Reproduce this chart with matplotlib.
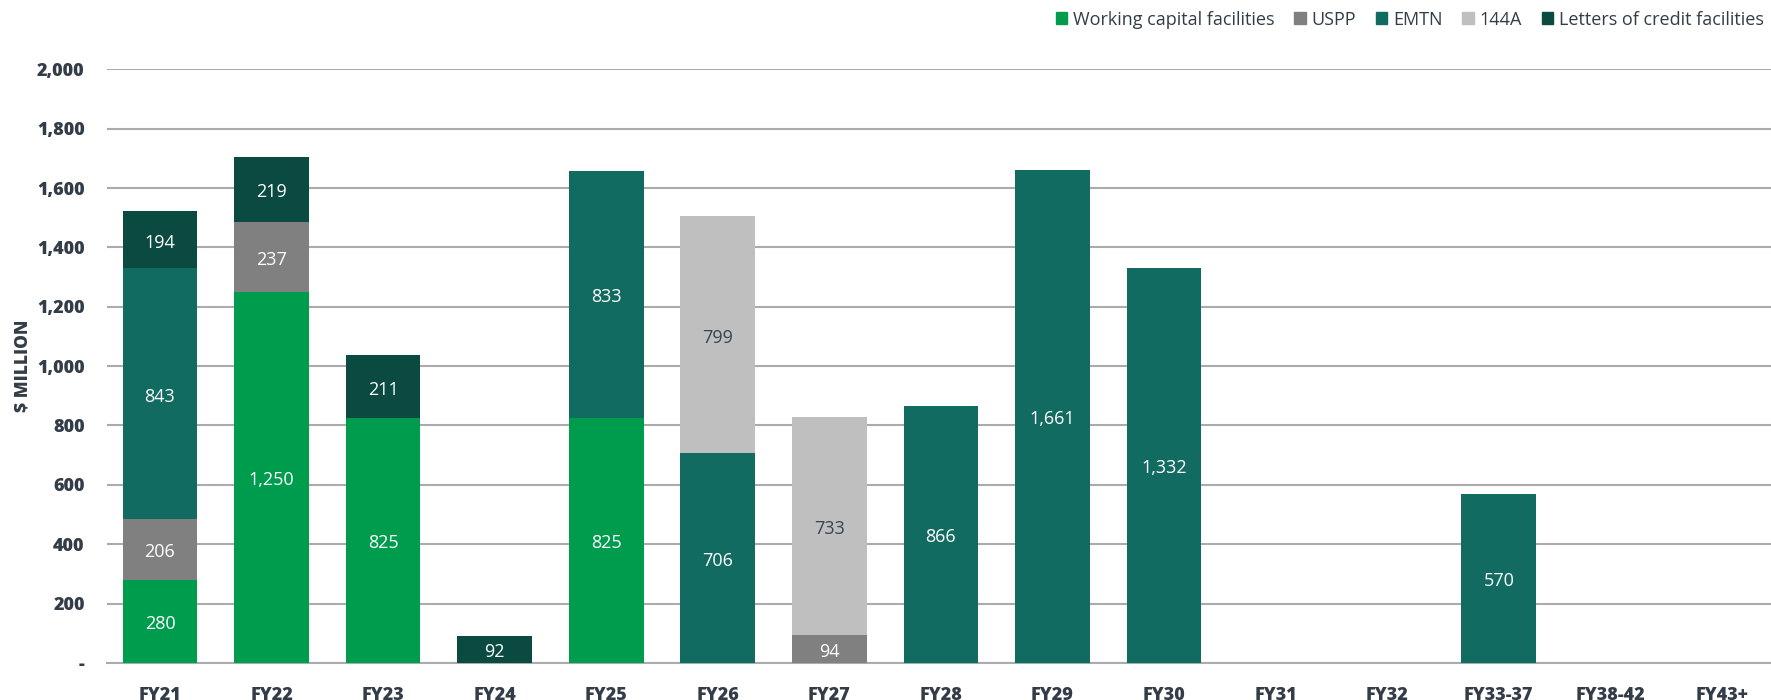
import numpy as np
import matplotlib.pyplot as plt
from matplotlib.patches import Patch
from matplotlib.transforms import offset_copy

plt.rcParams['font.family'] = ['Open Sans', 'DejaVu Sans']

# categories and series (in $ million)
years = ['FY21', 'FY22', 'FY23', 'FY24', 'FY25', 'FY26', 'FY27', 'FY28',
         'FY29', 'FY30', 'FY31', 'FY32', 'FY33-37', 'FY38-42', 'FY43+']
working_capital = [280, 1250, 825, 0, 825, 0, 0, 0, 0, 0, 0, 0, 0, 0, 0]
uspp = [206, 237, 0, 0, 0, 0, 94, 0, 0, 0, 0, 0, 0, 0, 0]
emtn = [843, 0, 0, 0, 833, 706, 0, 866, 1661, 1332, 0, 0, 570, 0, 0]
a144 = [0, 0, 0, 0, 0, 799, 733, 0, 0, 0, 0, 0, 0, 0, 0]
letters_credit = [194, 219, 211, 92, 0, 0, 0, 0, 0, 0, 0, 0, 0, 0, 0]

series = [
    ('Working capital facilities', working_capital, '#009C4E', 'white'),
    ('USPP', uspp, '#808080', 'white'),
    ('EMTN', emtn, '#116B61', 'white'),
    ('144A', a144, '#BFBFBF', '#3A4450'),
    ('Letters of credit facilities', letters_credit, '#0B4A41', 'white'),
]

text_col = '#333D47'

fig = plt.figure(figsize=(17.71, 7.0), dpi=100)
ax = fig.add_axes([0.0604, 0.053, 0.9396, 0.848])

# nudge labels down a touch
lab_tr = offset_copy(ax.transData, fig=fig, x=0, y=-3, units='dots')

x = np.arange(len(years))
bottom = np.zeros(len(years))
for name, vals, col, lcol in series:
    vals = np.array(vals, dtype=float)
    ax.bar(x, vals, 0.67, bottom=bottom, color=col, zorder=3, label=name)
    for xi, v, b in zip(x, vals, bottom):
        if v > 0:
            ax.text(xi, b + v / 2, f'{int(v):,}', ha='center', va='center',
                    color=lcol, fontsize=13, zorder=4, transform=lab_tr)
    bottom += vals

ax.set_xlim(-0.475, len(years) - 0.56)
ax.set_ylim(0, 2000)
ax.set_yticks(range(0, 2001, 200))
ax.set_yticklabels(['-'] + [f'{v:,}' for v in range(200, 2001, 200)])
ax.yaxis.grid(True, color='#ABABAB', linewidth=1.5, zorder=0)
ax.set_axisbelow(True)
for s in ['top', 'right', 'left']:
    ax.spines[s].set_visible(False)
ax.spines['bottom'].set_color('#ABABAB')
ax.spines['bottom'].set_linewidth(1.5)
ax.tick_params(axis='both', length=0, labelsize=13, colors=text_col)
ax.tick_params(axis='x', pad=17)
ax.tick_params(axis='y', pad=16)
ax.set_xticks(x)
ax.set_xticklabels(years)
for lab in ax.get_xticklabels() + ax.get_yticklabels():
    lab.set_fontweight('heavy')
ax.set_ylabel('$ MILLION', fontsize=12.5, fontweight='heavy', color=text_col, labelpad=4)

handles = [Patch(color=c) for _, _, c, _ in series]
fig.legend(handles, [n for n, _, _, _ in series], loc='upper right',
           bbox_to_anchor=(1.005, 1.008), ncol=5, frameon=False, fontsize=13,
           handlelength=0.65, handleheight=0.65, handletextpad=0.3, columnspacing=1.1,
           labelcolor=text_col)

fig.savefig('out.png', dpi=100)
